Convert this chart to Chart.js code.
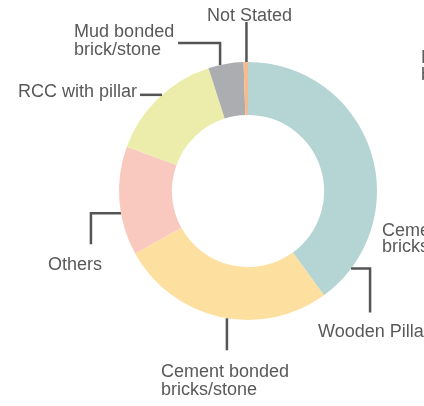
<!DOCTYPE html>
<html>
<head>
<meta charset="utf-8">
<script src="https://cdn.jsdelivr.net/npm/chart.js@4.4.1/dist/chart.umd.min.js"></script>
<style>
  html, body { margin: 0; padding: 0; background: #ffffff; }
  canvas { display: block; }
</style>
</head>
<body>
<canvas id="c" width="424" height="406"></canvas>
<script>
// ---- data ----
const categories = ["Wooden Pillar", "Cement bonded bricks/stone", "Others", "RCC with pillar", "Mud bonded brick/stone", "Not Stated"];
const shares = [40.0, 27.0, 13.6, 14.5, 4.4, 0.55];
const sliceColors = ["#b5d4d4", "#fddf9f", "#f9c9c0", "#ecedaa", "#abadb0", "#f7ba8c"];
const labelLines = [["Wooden Pillar"], ["Cement bonded", "bricks/stone"], ["Others"], ["RCC with pillar"], ["Mud bonded", "brick/stone"], ["Not Stated"]];
// labels belonging to the neighbouring (cropped) chart
const neighbourTexts = [["Cement bonded", "bricks/stone"], ["Mud bonded", "brick/stone"]];

// ---- label layout (leader geometry relative to the slice's outer edge) ----
const labelLayout = [
  { nudge: 55.0, path: [[0,0],[19,0],[19,44]], tx: -33, ty: [68.5], align: "left" },
  { nudge: -3.1, path: [[0,0],[0,32]], tx: -66, ty: [59, 77], align: "left" },
  { nudge: -5.5, path: [[0,0],[-30,0],[-30,31]], tx: -73, ty: [56.6], align: "left" },
  { nudge: 2.1, path: [[0,0],[-22,0]], tx: -25, ty: [2.2], align: "right" },
  { nudge: -2.6, path: [[0,0],[0,-22],[-42,-22]], tx: -146, ty: [-28, -10], align: "left" },
  { nudge: 0.3, path: [[0,0],[0,-40]], tx: 3, ty: [-41], align: "center" }
];
const neighbourLayout = [
  { x: 382, y: [236, 251.5] },
  { x: 421, y: [63, 80] }
];

const FONT = '18px "Liberation Sans", Arial, sans-serif';
const TEXT_COLOR = '#595959';
const LINE_COLOR = '#555555';

const leaderPlugin = {
  id: 'leaders',
  afterDatasetsDraw(chart) {
    const ctx = chart.ctx;
    const meta = chart.getDatasetMeta(0);
    ctx.save();
    ctx.font = FONT;
    ctx.textBaseline = 'alphabetic';
    meta.data.forEach((arc, i) => {
      const p = arc.getProps(['x', 'y', 'startAngle', 'endAngle', 'outerRadius'], true);
      const L = labelLayout[i];
      const a = (p.startAngle + p.endAngle) / 2 + L.nudge * Math.PI / 180;
      const ax = p.x + p.outerRadius * Math.cos(a);
      const ay = p.y + p.outerRadius * Math.sin(a);
      ctx.strokeStyle = LINE_COLOR;
      ctx.lineWidth = 2.5;
      ctx.lineCap = 'butt';
      ctx.lineJoin = 'miter';
      ctx.beginPath();
      L.path.forEach((pt, k) => {
        if (k === 0) ctx.moveTo(ax + pt[0], ay + pt[1]);
        else ctx.lineTo(ax + pt[0], ay + pt[1]);
      });
      ctx.stroke();
      ctx.fillStyle = TEXT_COLOR;
      ctx.textAlign = L.align;
      labelLines[i].forEach((line, k) => {
        ctx.fillText(line, ax + L.tx, ay + L.ty[k]);
      });
    });
    ctx.textAlign = 'left';
    ctx.fillStyle = TEXT_COLOR;
    neighbourTexts.forEach((lines, i) => {
      const N = neighbourLayout[i];
      lines.forEach((line, k) => ctx.fillText(line, N.x, N.y[k]));
    });
    ctx.restore();
  }
};

new Chart(document.getElementById('c'), {
  type: 'doughnut',
  data: {
    labels: categories,
    datasets: [{
      data: shares,
      backgroundColor: sliceColors,
      borderWidth: 0,
      hoverOffset: 0
    }]
  },
  options: {
    responsive: false,
    animation: false,
    cutout: '59%',
    layout: { padding: { left: 119, right: 47, top: 62, bottom: 86 } },
    plugins: {
      legend: { display: false },
      tooltip: { enabled: false },
      title: { display: false }
    }
  },
  plugins: [leaderPlugin]
});
</script>
</body>
</html>
